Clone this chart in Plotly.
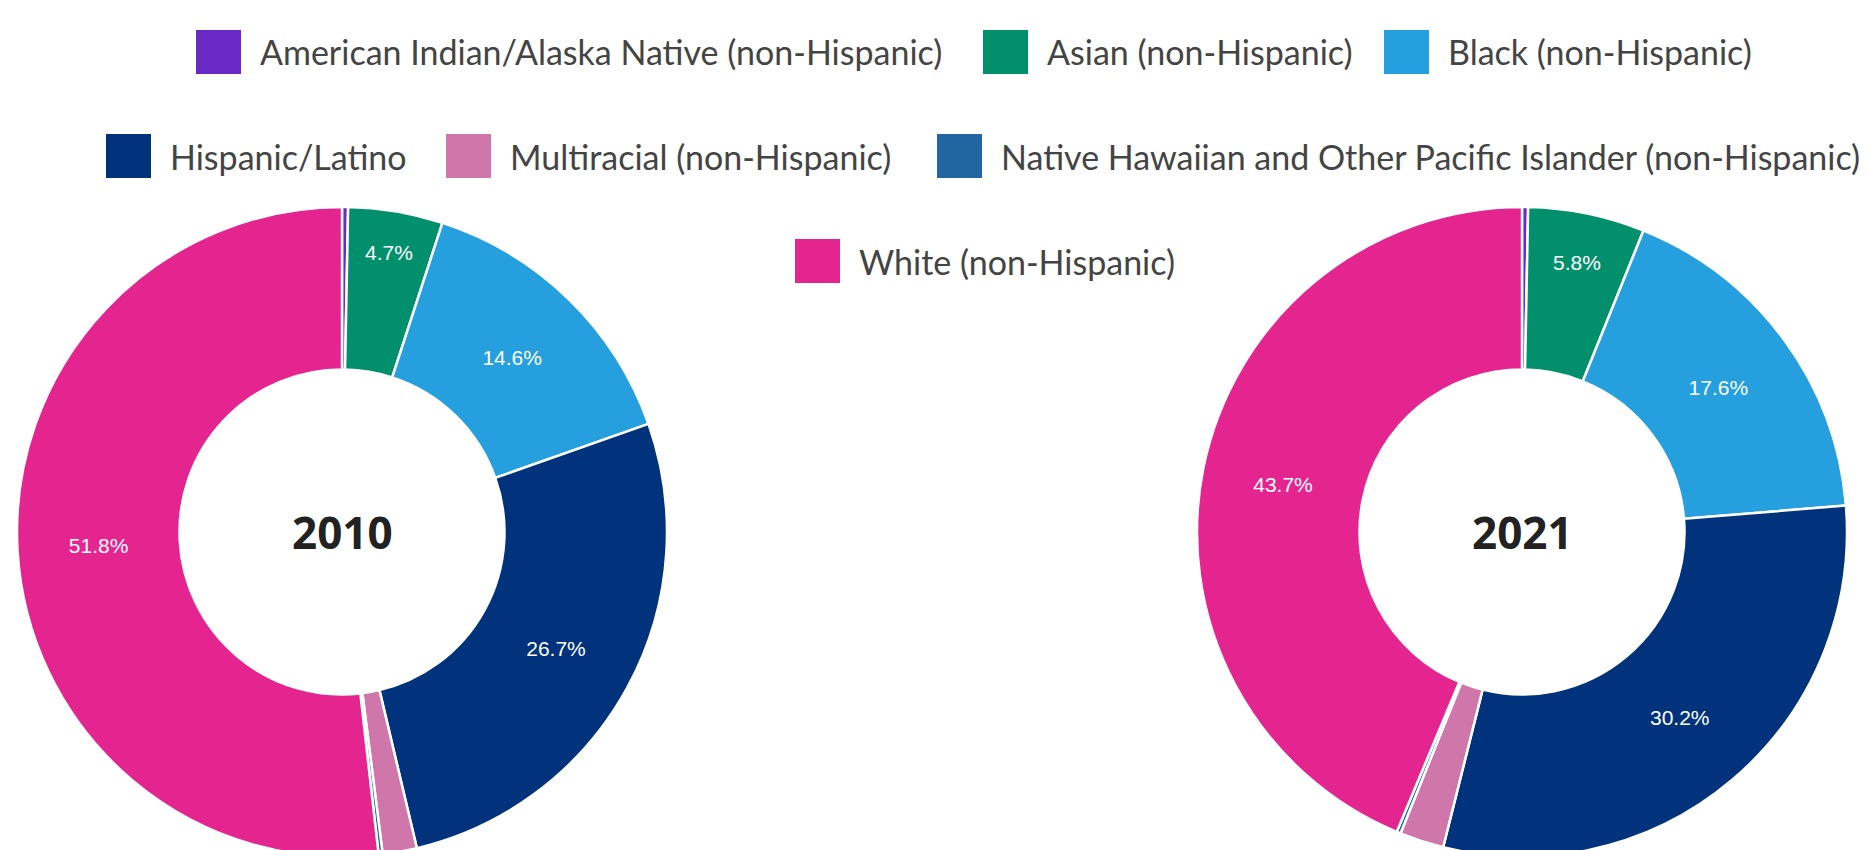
import plotly.graph_objects as go

# ---------------- data ----------------
categories = [
    "American Indian/Alaska Native (non-Hispanic)",
    "Asian (non-Hispanic)",
    "Black (non-Hispanic)",
    "Hispanic/Latino",
    "Multiracial (non-Hispanic)",
    "Native Hawaiian and Other Pacific Islander (non-Hispanic)",
    "White (non-Hispanic)",
]
values_2010 = [0.3, 4.7, 14.6, 26.7, 1.7, 0.2, 51.8]
values_2021 = [0.3, 5.8, 17.6, 30.2, 2.2, 0.2, 43.7]
years = ["2010", "2021"]
colors = ["#6A2AC6", "#028F6B", "#259FDD", "#00337C", "#CF76AA", "#2166A0", "#E5258F"]

# ---------------- layout constants (px) ----------------
W, H = 1867, 870
R_OUT = 325
centers = [(342, 532), (1522, 532)]
# legend: (swatch left x, row center y) per category
legend_pos = [(196, 52), (983, 52), (1384, 52),
              (106, 156), (446, 156), (937, 156),
              (795, 261)]
SW = 45
TEXT_GAP = 17


def px(x):
    return x / W


def py(y):
    return 1 - y / H


fig = go.Figure()
for year, vals, (cx, cy) in zip(years, [values_2010, values_2021], centers):
    txt = [f"{v}%" if v >= 3 else "" for v in vals]
    fig.add_trace(go.Pie(
        labels=categories,
        values=vals,
        text=txt,
        textinfo="text",
        textposition="inside",
        insidetextorientation="horizontal",
        textfont=dict(family="Liberation Sans, Arial", size=21, color="white"),
        hole=0.5,
        sort=False,
        direction="clockwise",
        rotation=0,
        marker=dict(colors=colors, line=dict(color="white", width=2.5)),
        domain=dict(x=[px(cx - R_OUT), px(cx + R_OUT)],
                    y=[py(cy + R_OUT), py(cy - R_OUT)]),
        showlegend=False,
        name=year,
    ))
    fig.add_annotation(
        x=px(cx), y=py(cy), xref="paper", yref="paper",
        text=f"<b>{year}</b>", showarrow=False,
        font=dict(family="Open Sans", size=44, color="#222222"),
        xanchor="center", yanchor="middle",
    )

# custom legend (centered rows)
shapes = []
for cat, col, (lx, ly) in zip(categories, colors, legend_pos):
    shapes.append(dict(
        type="rect", xref="paper", yref="paper",
        x0=px(lx), x1=px(lx + SW), y0=py(ly + 22), y1=py(ly - 22),
        fillcolor=col, line=dict(width=0),
    ))
    fig.add_annotation(
        x=px(lx + SW + TEXT_GAP), y=py(ly), xref="paper", yref="paper",
        text=cat, showarrow=False,
        font=dict(family="Lato", size=34, color="#444444"),
        xanchor="left", yanchor="middle",
    )

fig.update_layout(
    width=W, height=H,
    margin=dict(l=0, r=0, t=0, b=0),
    paper_bgcolor="white",
    plot_bgcolor="white",
    shapes=shapes,
)

fig.write_html(
    "out.html",
    config={"displayModeBar": False},
    post_script="document.body.style.margin='0';document.body.style.overflow='hidden';",
)
